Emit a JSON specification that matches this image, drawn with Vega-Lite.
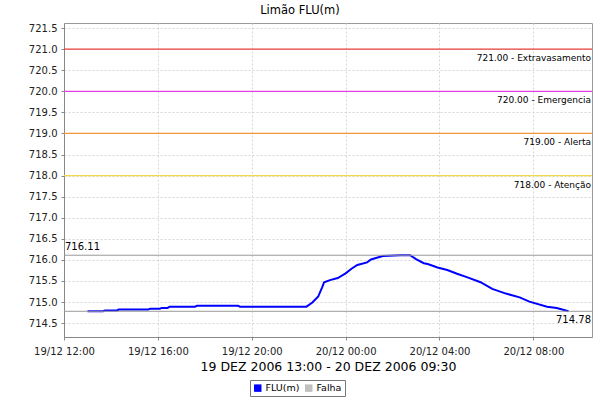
{
  "$schema": "https://vega.github.io/schema/vega-lite/v6.json",
  "width": 528,
  "height": 314,
  "autosize": {"type": "none"},
  "padding": {"left": 64, "top": 23, "right": 8, "bottom": 63},
  "background": "white",
  "title": {"text": "Limão FLU(m)", "font": "DejaVu Sans", "fontSize": 11.5, "fontWeight": "normal", "color": "#000", "anchor": "middle", "dx": -28, "offset": 7},
  "config": {
    "view": {"stroke": "#999"},
    "font": "DejaVu Sans",
    "axis": {"labelFont": "DejaVu Sans", "labelFontSize": 10, "labelColor": "#222", "domainColor": "#888", "tickColor": "#888", "tickSize": 3, "gridColor": "#d6d6d6", "gridDash": [2, 2], "titleFont": "DejaVu Sans", "labelOverlap": false},
    "axisY": {"labelOverlap": false}
  },
  "datasets": {
    "thresholds": [
      {"v": 721, "nivel": "Extravasamento", "label": "721.00 - Extravasamento"},
      {"v": 720, "nivel": "Emergencia", "label": "720.00 - Emergencia"},
      {"v": 719, "nivel": "Alerta", "label": "719.00 - Alerta"},
      {"v": 718, "nivel": "Atenção", "label": "718.00 - Atenção"}
    ],
    "extremes": [
      {"v": 716.11, "kind": "max", "label": "716.11"},
      {"v": 714.78, "kind": "min", "label": "714.78"}
    ],
    "series": [
      {"t": "2006-12-19T13:00:00", "v": 714.78, "s": "FLU(m)"},
      {"t": "2006-12-19T13:40:00", "v": 714.78, "s": "FLU(m)"},
      {"t": "2006-12-19T13:45:00", "v": 714.80, "s": "FLU(m)"},
      {"t": "2006-12-19T14:15:00", "v": 714.80, "s": "FLU(m)"},
      {"t": "2006-12-19T14:20:00", "v": 714.82, "s": "FLU(m)"},
      {"t": "2006-12-19T15:35:00", "v": 714.82, "s": "FLU(m)"},
      {"t": "2006-12-19T15:40:00", "v": 714.84, "s": "FLU(m)"},
      {"t": "2006-12-19T16:05:00", "v": 714.84, "s": "FLU(m)"},
      {"t": "2006-12-19T16:10:00", "v": 714.86, "s": "FLU(m)"},
      {"t": "2006-12-19T16:25:00", "v": 714.86, "s": "FLU(m)"},
      {"t": "2006-12-19T16:30:00", "v": 714.89, "s": "FLU(m)"},
      {"t": "2006-12-19T17:35:00", "v": 714.89, "s": "FLU(m)"},
      {"t": "2006-12-19T17:40:00", "v": 714.91, "s": "FLU(m)"},
      {"t": "2006-12-19T19:25:00", "v": 714.91, "s": "FLU(m)"},
      {"t": "2006-12-19T19:30:00", "v": 714.89, "s": "FLU(m)"},
      {"t": "2006-12-19T22:20:00", "v": 714.89, "s": "FLU(m)"},
      {"t": "2006-12-19T22:35:00", "v": 714.99, "s": "FLU(m)"},
      {"t": "2006-12-19T22:50:00", "v": 715.13, "s": "FLU(m)"},
      {"t": "2006-12-19T23:00:00", "v": 715.35, "s": "FLU(m)"},
      {"t": "2006-12-19T23:05:00", "v": 715.47, "s": "FLU(m)"},
      {"t": "2006-12-19T23:20:00", "v": 715.52, "s": "FLU(m)"},
      {"t": "2006-12-19T23:40:00", "v": 715.57, "s": "FLU(m)"},
      {"t": "2006-12-20T00:00:00", "v": 715.68, "s": "FLU(m)"},
      {"t": "2006-12-20T00:15:00", "v": 715.79, "s": "FLU(m)"},
      {"t": "2006-12-20T00:30:00", "v": 715.88, "s": "FLU(m)"},
      {"t": "2006-12-20T00:55:00", "v": 715.94, "s": "FLU(m)"},
      {"t": "2006-12-20T01:05:00", "v": 716.01, "s": "FLU(m)"},
      {"t": "2006-12-20T01:35:00", "v": 716.09, "s": "FLU(m)"},
      {"t": "2006-12-20T02:20:00", "v": 716.11, "s": "FLU(m)"},
      {"t": "2006-12-20T02:45:00", "v": 716.11, "s": "FLU(m)"},
      {"t": "2006-12-20T03:00:00", "v": 716.02, "s": "FLU(m)"},
      {"t": "2006-12-20T03:20:00", "v": 715.92, "s": "FLU(m)"},
      {"t": "2006-12-20T03:30:00", "v": 715.90, "s": "FLU(m)"},
      {"t": "2006-12-20T03:55:00", "v": 715.82, "s": "FLU(m)"},
      {"t": "2006-12-20T04:20:00", "v": 715.76, "s": "FLU(m)"},
      {"t": "2006-12-20T04:45:00", "v": 715.67, "s": "FLU(m)"},
      {"t": "2006-12-20T05:10:00", "v": 715.59, "s": "FLU(m)"},
      {"t": "2006-12-20T05:45:00", "v": 715.47, "s": "FLU(m)"},
      {"t": "2006-12-20T06:15:00", "v": 715.31, "s": "FLU(m)"},
      {"t": "2006-12-20T06:50:00", "v": 715.20, "s": "FLU(m)"},
      {"t": "2006-12-20T07:25:00", "v": 715.11, "s": "FLU(m)"},
      {"t": "2006-12-20T07:50:00", "v": 715.01, "s": "FLU(m)"},
      {"t": "2006-12-20T08:35:00", "v": 714.89, "s": "FLU(m)"},
      {"t": "2006-12-20T09:00:00", "v": 714.86, "s": "FLU(m)"},
      {"t": "2006-12-20T09:30:00", "v": 714.78, "s": "FLU(m)"}
    ]
  },
  "encoding": {
    "y": {
      "field": "v", "type": "quantitative",
      "scale": {"domain": [714.17, 721.62], "nice": false, "zero": false},
      "axis": {"values": [714.5, 715, 715.5, 716, 716.5, 717, 717.5, 718, 718.5, 719, 719.5, 720, 720.5, 721, 721.5], "format": ".1f", "title": null, "labelPadding": 4, "labelOverlap": false, "labelSeparation": 0}
    }
  },
  "layer": [
    {
      "data": {"name": "series"},
      "mark": {"type": "line", "strokeWidth": 2, "interpolate": "linear"},
      "encoding": {
        "x": {
          "field": "t", "type": "temporal",
          "scale": {"domain": [{"year": 2006, "month": 12, "date": 19, "hours": 12}, {"year": 2006, "month": 12, "date": 20, "hours": 10, "minutes": 30}], "nice": false},
          "axis": {
            "values": [
              {"year": 2006, "month": 12, "date": 19, "hours": 12},
              {"year": 2006, "month": 12, "date": 19, "hours": 16},
              {"year": 2006, "month": 12, "date": 19, "hours": 20},
              {"year": 2006, "month": 12, "date": 20, "hours": 0},
              {"year": 2006, "month": 12, "date": 20, "hours": 4},
              {"year": 2006, "month": 12, "date": 20, "hours": 8}
            ],
            "format": "%d/%m %H:%M", "labelPadding": 6, "labelFlush": false,
            "title": "19 DEZ 2006 13:00 - 20 DEZ 2006 09:30", "titleFontSize": 12.5, "titleFontWeight": "normal", "titleColor": "#000", "titlePadding": 4
          }
        },
        "color": {
          "field": "s", "type": "nominal",
          "scale": {"domain": ["FLU(m)", "Falha"], "range": ["#0000ff", "#c0c0c0"]},
          "legend": {
            "title": null, "orient": "none", "legendX": 186, "legendY": 357, "direction": "horizontal",
            "symbolType": "square", "symbolSize": 56, "strokeColor": "#777", "fillColor": "white", "padding": 3,
            "labelFontSize": 9.5, "labelColor": "#000", "labelFont": "DejaVu Sans", "columnPadding": 4, "labelOffset": 3,
            "encode": {"symbols": {"update": {"fill": {"field": "value", "scale": "color"}, "strokeWidth": {"value": 0}}}}
          }
        }
      }
    },
    {
      "data": {"name": "thresholds"},
      "mark": {"type": "rule", "strokeWidth": 1.3},
      "encoding": {
        "stroke": {"field": "nivel", "type": "nominal", "scale": {"domain": ["Extravasamento", "Emergencia", "Alerta", "Atenção"], "range": ["#e8403a", "#e040e8", "#f0963c", "#f2d84a"]}, "legend": null}
      }
    },
    {
      "data": {"name": "thresholds"},
      "mark": {"type": "text", "align": "right", "baseline": "middle", "dy": 9, "dx": -1, "fontSize": 9, "font": "DejaVu Sans", "color": "#000"},
      "encoding": {
        "x": {"datum": {"year": 2006, "month": 12, "date": 20, "hours": 10, "minutes": 30}, "type": "temporal"},
        "text": {"field": "label"}
      }
    },
    {
      "data": {"name": "extremes"},
      "mark": {"type": "rule", "strokeWidth": 1, "color": "#999"},
      "encoding": {}
    },
    {
      "data": {"name": "extremes"},
      "transform": [{"filter": "datum.kind == 'max'"}],
      "mark": {"type": "text", "align": "left", "baseline": "middle", "dy": -8, "dx": 1, "fontSize": 10, "font": "DejaVu Sans", "color": "#000"},
      "encoding": {
        "x": {"datum": {"year": 2006, "month": 12, "date": 19, "hours": 12}, "type": "temporal"},
        "text": {"field": "label"}
      }
    },
    {
      "data": {"name": "extremes"},
      "transform": [{"filter": "datum.kind == 'min'"}],
      "mark": {"type": "text", "align": "right", "baseline": "middle", "dy": 9, "dx": -1, "fontSize": 10, "font": "DejaVu Sans", "color": "#000"},
      "encoding": {
        "x": {"datum": {"year": 2006, "month": 12, "date": 20, "hours": 10, "minutes": 30}, "type": "temporal"},
        "text": {"field": "label"}
      }
    }
  ]
}
